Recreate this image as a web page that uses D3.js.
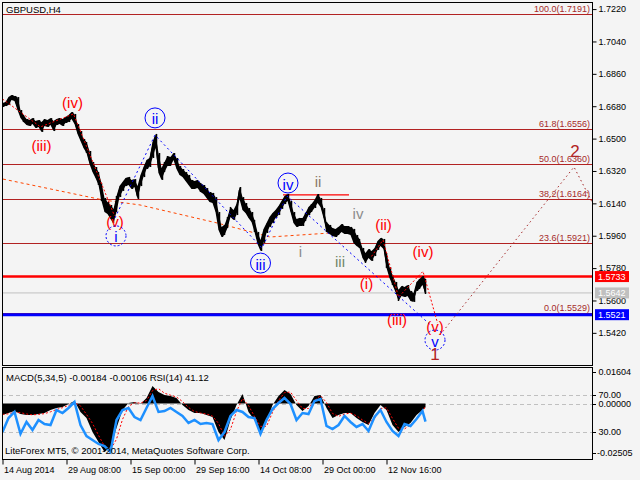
<!DOCTYPE html>
<html>
<head>
<meta charset="utf-8">
<script src="https://cdn.jsdelivr.net/npm/d3@7"></script>
<style>
  html, body { margin: 0; padding: 0; background: #f4f4f4; }
  svg { display: block; }
  text { font-family: "Liberation Sans", Arial, sans-serif; }
</style>
</head>
<body>
<svg id="chart" width="640" height="480"></svg>
<script>
// ---- GBPUSD H4, one sample every 3 bars: close, high, low ----
const priceStep = 3;
const closes = [
  1.6687, 1.6692, 1.6709, 1.6731, 1.6726, 1.6681, 1.6637, 1.6615, 1.6592, 1.6587,
  1.6598, 1.6576, 1.6587, 1.6553, 1.6592, 1.6581, 1.6598, 1.6559, 1.6592, 1.6598,
  1.6587, 1.6603, 1.6609, 1.6631, 1.6609, 1.6548, 1.6509, 1.6476, 1.6459, 1.6381,
  1.6342, 1.6320, 1.6287, 1.6192, 1.6131, 1.6120, 1.6092, 1.6064, 1.6148, 1.6214,
  1.6236, 1.6259, 1.6264, 1.6248, 1.6259, 1.6181, 1.6270, 1.6314, 1.6359, 1.6370,
  1.6448, 1.6509, 1.6337, 1.6298, 1.6342, 1.6381, 1.6375, 1.6409, 1.6364, 1.6325,
  1.6309, 1.6292, 1.6270, 1.6248, 1.6242, 1.6248, 1.6231, 1.6220, 1.6198, 1.6175,
  1.6170, 1.6131, 1.6048, 1.5970, 1.5992, 1.6031, 1.6098, 1.6075, 1.6103, 1.6214,
  1.6131, 1.6114, 1.6086, 1.6064, 1.6014, 1.5947, 1.5903, 1.5959, 1.6003, 1.6036,
  1.6059, 1.6081, 1.6098, 1.6131, 1.6159, 1.6178, 1.6120, 1.6059, 1.6031, 1.6036,
  1.6036, 1.6064, 1.6098, 1.6114, 1.6136, 1.6164, 1.6142, 1.6086, 1.6009, 1.5992,
  1.5981, 1.5975, 1.5986, 1.6003, 1.5992, 1.5992, 1.5986, 1.5964, 1.5936, 1.5920,
  1.5864, 1.5831, 1.5864, 1.5847, 1.5870, 1.5909, 1.5925, 1.5920, 1.5814, 1.5753,
  1.5714, 1.5675, 1.5619, 1.5653, 1.5647, 1.5653, 1.5619, 1.5614, 1.5675, 1.5686,
  1.5714, 1.5642
];
const highs = [
  1.6698, 1.6703, 1.6731, 1.6742, 1.6737, 1.6731, 1.6659, 1.6631, 1.6609, 1.6603,
  1.6614, 1.6598, 1.6603, 1.6592, 1.6609, 1.6603, 1.6614, 1.6598, 1.6609, 1.6614,
  1.6609, 1.6620, 1.6631, 1.6648, 1.6637, 1.6581, 1.6542, 1.6498, 1.6481, 1.6431,
  1.6370, 1.6342, 1.6314, 1.6253, 1.6170, 1.6148, 1.6131, 1.6109, 1.6181, 1.6236,
  1.6259, 1.6281, 1.6287, 1.6270, 1.6275, 1.6236, 1.6298, 1.6342, 1.6381, 1.6392,
  1.6481, 1.6526, 1.6420, 1.6337, 1.6370, 1.6403, 1.6398, 1.6420, 1.6392, 1.6348,
  1.6331, 1.6314, 1.6298, 1.6270, 1.6264, 1.6270, 1.6253, 1.6242, 1.6225, 1.6203,
  1.6198, 1.6175, 1.6092, 1.6009, 1.6020, 1.6064, 1.6120, 1.6103, 1.6136, 1.6231,
  1.6175, 1.6142, 1.6114, 1.6092, 1.6048, 1.5981, 1.5936, 1.5998, 1.6031, 1.6064,
  1.6086, 1.6103, 1.6125, 1.6153, 1.6181, 1.6192, 1.6153, 1.6092, 1.6053, 1.6059,
  1.6059, 1.6086, 1.6120, 1.6136, 1.6159, 1.6192, 1.6170, 1.6114, 1.6036, 1.6020,
  1.6003, 1.5998, 1.6009, 1.6025, 1.6014, 1.6014, 1.6009, 1.5998, 1.5964, 1.5942,
  1.5892, 1.5864, 1.5886, 1.5875, 1.5892, 1.5931, 1.5948, 1.5942, 1.5864, 1.5786,
  1.5742, 1.5703, 1.5659, 1.5681, 1.5675, 1.5686, 1.5653, 1.5642, 1.5703, 1.5720,
  1.5736, 1.5720
];
const lows = [
  1.6676, 1.6681, 1.6687, 1.6715, 1.6709, 1.6659, 1.6615, 1.6592, 1.6576, 1.6570,
  1.6581, 1.6559, 1.6565, 1.6537, 1.6570, 1.6565, 1.6576, 1.6542, 1.6576, 1.6581,
  1.6570, 1.6587, 1.6592, 1.6609, 1.6581, 1.6526, 1.6487, 1.6448, 1.6420, 1.6359,
  1.6314, 1.6281, 1.6242, 1.6153, 1.6092, 1.6081, 1.6053, 1.6031, 1.6092, 1.6175,
  1.6209, 1.6236, 1.6242, 1.6220, 1.6231, 1.6164, 1.6236, 1.6286, 1.6331, 1.6342,
  1.6392, 1.6448, 1.6309, 1.6270, 1.6314, 1.6348, 1.6348, 1.6381, 1.6331, 1.6298,
  1.6287, 1.6264, 1.6242, 1.6220, 1.6220, 1.6225, 1.6203, 1.6192, 1.6170, 1.6148,
  1.6142, 1.6092, 1.5992, 1.5953, 1.5964, 1.6003, 1.6064, 1.6048, 1.6075, 1.6164,
  1.6103, 1.6086, 1.6059, 1.6036, 1.5981, 1.5914, 1.5875, 1.5920, 1.5975, 1.6009,
  1.6031, 1.6059, 1.6075, 1.6109, 1.6136, 1.6153, 1.6092, 1.6031, 1.6009, 1.6014,
  1.6014, 1.6042, 1.6075, 1.6092, 1.6114, 1.6142, 1.6120, 1.6059, 1.5981, 1.5970,
  1.5959, 1.5953, 1.5964, 1.5981, 1.5970, 1.5970, 1.5964, 1.5920, 1.5903, 1.5892,
  1.5836, 1.5809, 1.5836, 1.5820, 1.5847, 1.5881, 1.5903, 1.5886, 1.5781, 1.5725,
  1.5686, 1.5647, 1.5597, 1.5625, 1.5620, 1.5625, 1.5597, 1.5592, 1.5653, 1.5664,
  1.5686, 1.5636
];

// ---- MACD(5,34,5) main, signal and RSI(14), one every 6 bars ----
const indStep = 6;
const macdMain = [
  -0.0058, -0.0048, -0.0038, -0.0053, -0.0058, -0.0058, -0.0053, -0.0048, -0.0033, -0.0023,
  -0.0018, -0.0003, 0.0013, -0.0043, -0.0073, -0.0144, -0.0194, -0.0244, -0.0219, -0.0123,
  -0.0033, 0.0003, 0.0008, -0.0003, 0.0028, 0.0088, 0.0058, 0.0043, 0.0038, 0.0028,
  -0.0008, -0.0033, -0.0048, -0.0048, -0.0058, -0.0068, -0.0144, -0.0184, -0.0083, -0.0008,
  0.0048, -0.0043, -0.0083, -0.0144, -0.0093, -0.0008, 0.0038, 0.0068, 0.0048, -0.0008,
  -0.0038, -0.0013, 0.0038, 0.0043, -0.0023, -0.0073, -0.0058, -0.0048, -0.0048, -0.0073,
  -0.0093, -0.0108, -0.0048, -0.0008, -0.0033, -0.0108, -0.0144, -0.0118, -0.0098, -0.0058,
  -0.0033, -0.00184
];
const macdSignal = [
  -0.0055, -0.0052, -0.0045, -0.0046, -0.0053, -0.0057, -0.0055, -0.0051, -0.0042, -0.0030,
  -0.0021, -0.0010, 0.0004, -0.0012, -0.0055, -0.0100, -0.0160, -0.0215, -0.0232, -0.0180,
  -0.0080, -0.0015, 0.0004, 0.0002, 0.0015, 0.0065, 0.0075, 0.0052, 0.0042, 0.0033,
  0.0010, -0.0020, -0.0040, -0.0048, -0.0053, -0.0063, -0.0100, -0.0165, -0.0130, -0.0040,
  0.0025, -0.0010, -0.0065, -0.0115, -0.0115, -0.0045, 0.0015, 0.0055, 0.0058, 0.0015,
  -0.0025, -0.0025, 0.0015, 0.0040, 0.0005, -0.0050, -0.0065, -0.0053, -0.0048, -0.0062,
  -0.0083, -0.0100, -0.0075, -0.0025, -0.0022, -0.0075, -0.0125, -0.0128, -0.0108, -0.0075,
  -0.0045, -0.00106
];
const rsi = [
  30.0, 45.0, 51.5, 28.0, 40.8, 32.2, 42.9, 38.6, 37.5, 53.6,
  50.4, 55.8, 62.2, 37.5, 25.7, 21.4, 17.2, 15.0, 8.6, 42.9,
  53.6, 55.8, 46.1, 42.9, 55.8, 68.6, 51.5, 52.5, 55.8, 51.5,
  47.2, 39.7, 42.9, 38.6, 39.7, 38.6, 21.4, 30.0, 47.2, 53.6,
  51.5, 46.1, 45.0, 27.9, 42.9, 54.7, 61.1, 66.5, 60.1, 42.9,
  50.4, 49.3, 63.3, 65.4, 36.5, 33.2, 37.5, 47.2, 40.8, 35.4,
  38.6, 31.1, 46.1, 53.6, 40.8, 31.1, 25.7, 38.6, 36.5, 44.0,
  52.5, 41.12
];

// ---- price axis and time axis labels ----
const priceTicks = [1.7220, 1.7040, 1.6860, 1.6680, 1.6500, 1.6320, 1.6140, 1.5960, 1.5780, 1.5600, 1.5420];
const timeTickBars = [0, 64, 128, 192, 256, 320, 384];
const timeTickLabels = ["14 Aug 2014", "29 Aug 08:00", "15 Sep 00:00", "29 Sep 16:00", "14 Oct 08:00", "29 Oct 00:00", "12 Nov 16:00"];

// ---- Fibonacci retracement levels ----
const fibLevels = ["100.0", "61.8", "50.0", "38.2", "23.6", "0.0"];
const fibPrices = [1.7191, 1.6556, 1.6360, 1.6164, 1.5921, 1.5529];

// ---- horizontal price lines (resistance, bid, support) ----
const levelPrices = [1.5733, 1.5642, 1.5521];
const levelColors = ["#ff0000", "#c0c0c0", "#0000ff"];
const levelWidths = [2.5, 1, 3];

// ---- wave markup: [bar, price] ----
const minorWaveRed1 = [[0, 1.6720], [38, 1.6565], [71, 1.6637], [112, 1.6070]];
const intermediateBlue = [[112.5, 1.6059], [152.5, 1.6520], [259.5, 1.5892], [284.5, 1.6181], [428, 1.5464]];
const minorWaveRed2 = [[369, 1.5845], [380.5, 1.5936], [396, 1.5619], [420.5, 1.5762], [435, 1.5475]];
const trendDashed = [[0.5, 1.6275], [100.5, 1.6159], [137.5, 1.6131], [214.5, 1.6031], [267.5, 1.5953], [327.5, 1.5975]];
const projection = [[437.5, 1.5408], [571.5, 1.6342], [589.5, 1.6148]];
const waveTopLine = [[280.5, 1.6187], [346.5, 1.6187]];

const redLabels = [
  ["(iii)", 39, 1.6461], ["(iv)", 70, 1.6698], ["(v)", 112.5, 1.6038],
  ["(i)", 364, 1.5697], ["(ii)", 381, 1.6020], ["(iii)", 394.5, 1.5497],
  ["(iv)", 420.5, 1.5870], ["(v)", 432.5, 1.5453]
];
const blueLabels = [
  ["i", 113.5, 1.5959, true], ["ii", 152.5, 1.6615, false], ["iii", 258, 1.5808, false],
  ["iv", 285.5, 1.6253, false], ["v", 432.5, 1.5380, true]
];
const grayLabels = [
  ["i", 298, 1.5875, "#8c8c8c"], ["ii", 315.5, 1.6259, "#8a7a6a"],
  ["iii", 337.5, 1.5814, "#70876a"], ["iv", 355.5, 1.6086, "#8c8c8c"]
];
const primaryLabels = [["1", 432.5, 1.5302], ["2", 572.5, 1.6426]];

// ---- layout ----
const svg = d3.select("#chart");
const main = { left: 2, right: 592, top: 2, bottom: 365 };
const sub = { left: 2, right: 592, top: 367, bottom: 459 };

const x = d3.scaleLinear().domain([0, 588]).range([2.5, 590.5]);
const y = d3.scaleLinear().domain([1.52413, 1.72594]).range([main.bottom, main.top]);
const yMacd = d3.scaleLinear().domain([-0.02505, 0.01604]).range([453.2, 371.7]);
const yRsi = d3.scaleLinear().domain([0, 100]).range([460, 366.75]);

const lastBar = 423;
const barAt = (i, step) => Math.min(i * step, lastBar);

svg.append("rect").attr("width", 640).attr("height", 480).attr("fill", "#f4f4f4");

const defs = svg.append("defs");
defs.append("clipPath").attr("id", "clipMain").append("rect")
  .attr("x", main.left).attr("y", main.top).attr("width", main.right - main.left).attr("height", main.bottom - main.top);
defs.append("clipPath").attr("id", "clipSub").append("rect")
  .attr("x", sub.left).attr("y", sub.top).attr("width", sub.right - sub.left).attr("height", sub.bottom - sub.top);

const gMain = svg.append("g").attr("clip-path", "url(#clipMain)");
const gSub = svg.append("g").attr("clip-path", "url(#clipSub)");

const line = d3.line().x(d => x(d[0])).y(d => y(d[1]));

// Fibonacci lines and captions
fibPrices.forEach((p, i) => {
  gMain.append("line").attr("x1", main.left).attr("x2", main.right)
    .attr("y1", Math.round(y(p)) + 0.5).attr("y2", Math.round(y(p)) + 0.5)
    .attr("stroke", "#b22222").attr("stroke-width", 1);
  svg.append("text").attr("x", 590).attr("y", Math.round(y(p)) - 2)
    .attr("text-anchor", "end").attr("font-size", 9).attr("fill", "#a52a2a")
    .text(`${fibLevels[i]}(${p.toFixed(4)})`);
});

// horizontal levels
levelPrices.forEach((p, i) => {
  gMain.append("line").attr("x1", main.left).attr("x2", main.right)
    .attr("y1", y(p)).attr("y2", y(p))
    .attr("stroke", levelColors[i]).attr("stroke-width", levelWidths[i]);
});

// dashed trend line
gMain.append("path").datum(trendDashed).attr("d", line)
  .attr("fill", "none").attr("stroke", "#ff4500").attr("stroke-width", 1).attr("stroke-dasharray", "3,3");

// short red line over the ii/iv area
gMain.append("path").datum(waveTopLine).attr("d", line)
  .attr("fill", "none").attr("stroke", "#ff0000").attr("stroke-width", 1.2);

// price series: high-low range band, bar ticks and close line
const priceData = closes.map((c, i) => ({ bar: barAt(i, priceStep), c, h: highs[i], l: lows[i] }));
gMain.append("path").datum(priceData)
  .attr("d", d3.area().x(d => x(d.bar)).y0(d => y(d.l)).y1(d => y(d.h)))
  .attr("fill", "#000");
gMain.selectAll("line.hl").data(priceData).join("line").attr("class", "hl")
  .attr("x1", d => Math.round(x(d.bar)) + 0.5).attr("x2", d => Math.round(x(d.bar)) + 0.5)
  .attr("y1", d => y(d.h)).attr("y2", d => y(d.l))
  .attr("stroke", "#000").attr("stroke-width", 1.5);
gMain.append("path").datum(priceData).attr("d", d3.line().x(d => x(d.bar)).y(d => y(d.c)))
  .attr("fill", "none").attr("stroke", "#000").attr("stroke-width", 1.5);

// wave paths
gMain.append("path").datum(minorWaveRed1).attr("d", line)
  .attr("fill", "none").attr("stroke", "#ff0000").attr("stroke-width", 1).attr("stroke-dasharray", "2,2");
gMain.append("path").datum(minorWaveRed2).attr("d", line)
  .attr("fill", "none").attr("stroke", "#ff0000").attr("stroke-width", 1).attr("stroke-dasharray", "2,2");
gMain.append("path").datum(intermediateBlue).attr("d", line)
  .attr("fill", "none").attr("stroke", "#0000ff").attr("stroke-width", 1).attr("stroke-dasharray", "2,3");
gMain.append("path").datum(projection).attr("d", line)
  .attr("fill", "none").attr("stroke", "#a52a2a").attr("stroke-width", 1).attr("stroke-dasharray", "1.5,3");

// wave labels
redLabels.forEach(([t, b, p]) => {
  gMain.append("text").attr("x", x(b)).attr("y", y(p)).attr("text-anchor", "middle")
    .attr("dominant-baseline", "central").attr("font-size", 15).attr("fill", "#ff0000").text(t);
});
blueLabels.forEach(([t, b, p, dashed]) => {
  gMain.append("circle").attr("cx", x(b)).attr("cy", y(p)).attr("r", 10)
    .attr("fill", "none").attr("stroke", "#0000ff").attr("stroke-width", 1)
    .attr("stroke-dasharray", dashed ? "2,2" : null);
  gMain.append("text").attr("x", x(b)).attr("y", y(p) + 1).attr("text-anchor", "middle")
    .attr("dominant-baseline", "central").attr("font-size", 15).attr("fill", "#0000ff").text(t);
});
grayLabels.forEach(([t, b, p, c]) => {
  gMain.append("text").attr("x", x(b)).attr("y", y(p)).attr("text-anchor", "middle")
    .attr("dominant-baseline", "central").attr("font-size", 15).attr("fill", c).text(t);
});
primaryLabels.forEach(([t, b, p]) => {
  gMain.append("text").attr("x", x(b)).attr("y", y(p)).attr("text-anchor", "middle")
    .attr("dominant-baseline", "central").attr("font-size", 17)
    .attr("font-family", "'Liberation Serif', 'Times New Roman', serif")
    .attr("fill", "#b22222").text(t);
});

// symbol caption
svg.append("text").attr("x", 6).attr("y", 13).attr("font-size", 9.5).attr("fill", "#000").text("GBPUSD,H4");

// ---- indicator panel ----
[70, 30].forEach(v => {
  gSub.append("line").attr("x1", sub.left).attr("x2", sub.right)
    .attr("y1", Math.round(yRsi(v)) + 0.5).attr("y2", Math.round(yRsi(v)) + 0.5)
    .attr("stroke", "#c0c0c0").attr("stroke-dasharray", "4,3");
});
gSub.append("line").attr("x1", sub.left).attr("x2", sub.right)
  .attr("y1", Math.round(yMacd(0)) + 0.5).attr("y2", Math.round(yMacd(0)) + 0.5)
  .attr("stroke", "#c0c0c0").attr("stroke-dasharray", "4,3");

const macdData = macdMain.map((v, i) => [barAt(i, indStep), v]);
gSub.append("path").datum(macdData)
  .attr("d", d3.area().x(d => x(d[0])).y0(yMacd(0)).y1(d => yMacd(d[1])))
  .attr("fill", "#000");
const sigData = macdSignal.map((v, i) => [barAt(i, indStep), v]);
gSub.append("path").datum(sigData)
  .attr("d", d3.line().x(d => x(d[0])).y(d => yMacd(d[1])))
  .attr("fill", "none").attr("stroke", "#ff0000").attr("stroke-width", 1).attr("stroke-dasharray", "2,2");
const rsiData = rsi.map((v, i) => [barAt(i, indStep), v]);
gSub.append("path").datum(rsiData)
  .attr("d", d3.line().x(d => x(d[0])).y(d => yRsi(d[1])))
  .attr("fill", "none").attr("stroke", "#1e90ff").attr("stroke-width", 2.5);

svg.append("text").attr("x", 6).attr("y", 381).attr("font-size", 9.5).attr("fill", "#000")
  .text("MACD(5,34,5) -0.00184 -0.00106 RSI(14) 41.12");
svg.append("text").attr("x", 5).attr("y", 454).attr("font-size", 9.5).attr("fill", "#000")
  .text("LiteForex MT5, © 2001-2014, MetaQuotes Software Corp.");

// ---- frames ----
svg.append("rect").attr("x", main.left + 0.5).attr("y", main.top + 0.5)
  .attr("width", main.right - main.left).attr("height", main.bottom - main.top)
  .attr("fill", "none").attr("stroke", "#000");
svg.append("rect").attr("x", sub.left + 0.5).attr("y", sub.top + 0.5)
  .attr("width", sub.right - sub.left).attr("height", sub.bottom - sub.top)
  .attr("fill", "none").attr("stroke", "#000");

// ---- price axis ----
const yAxis = d3.axisRight(y).tickValues(priceTicks).tickFormat(d3.format(".4f")).tickSize(4).tickPadding(2);
const gy = svg.append("g").attr("transform", `translate(${main.right + 0.5},0)`).call(yAxis);
gy.select(".domain").remove();
gy.selectAll("text").attr("font-size", 9).attr("fill", "#000").attr("font-family", "'Liberation Sans', Arial, sans-serif");
gy.selectAll("line").attr("stroke", "#000");

// level price tags on the axis
levelPrices.forEach((p, i) => {
  svg.append("rect").attr("x", 595).attr("y", y(p) - 5.5).attr("width", 34).attr("height", 11)
    .attr("fill", levelColors[i]);
  svg.append("text").attr("x", 598).attr("y", y(p)).attr("dominant-baseline", "central")
    .attr("font-size", 9).attr("fill", "#fff").text(p.toFixed(4));
});

// ---- indicator axis ----
const subTicks = [
  [yMacd(0.01604), "0.01604"], [yRsi(70), "70.00"], [yMacd(0), "0.00000"],
  [yRsi(30), "30.00"], [yMacd(-0.02505), "-0.02505"]
];
subTicks.forEach(([py, t]) => {
  svg.append("line").attr("x1", sub.right).attr("x2", sub.right + 4)
    .attr("y1", Math.round(py) + 0.5).attr("y2", Math.round(py) + 0.5).attr("stroke", "#000");
  svg.append("text").attr("x", t.startsWith("-") ? 597 : 598.5).attr("y", py)
    .attr("dominant-baseline", "central").attr("font-size", 9).attr("fill", "#000").text(t);
});

// ---- time axis ----
const xAxis = d3.axisBottom(x).tickValues(timeTickBars)
  .tickFormat((d, i) => timeTickLabels[i]).tickSize(5).tickPadding(2);
const gx = svg.append("g").attr("transform", `translate(0,${sub.bottom + 0.5})`).call(xAxis);
gx.select(".domain").remove();
gx.selectAll("text").attr("font-size", 9).attr("fill", "#000").attr("text-anchor", "start")
  .attr("dx", 1).attr("font-family", "'Liberation Sans', Arial, sans-serif");
gx.selectAll("line").attr("stroke", "#000");
</script>
</body>
</html>
